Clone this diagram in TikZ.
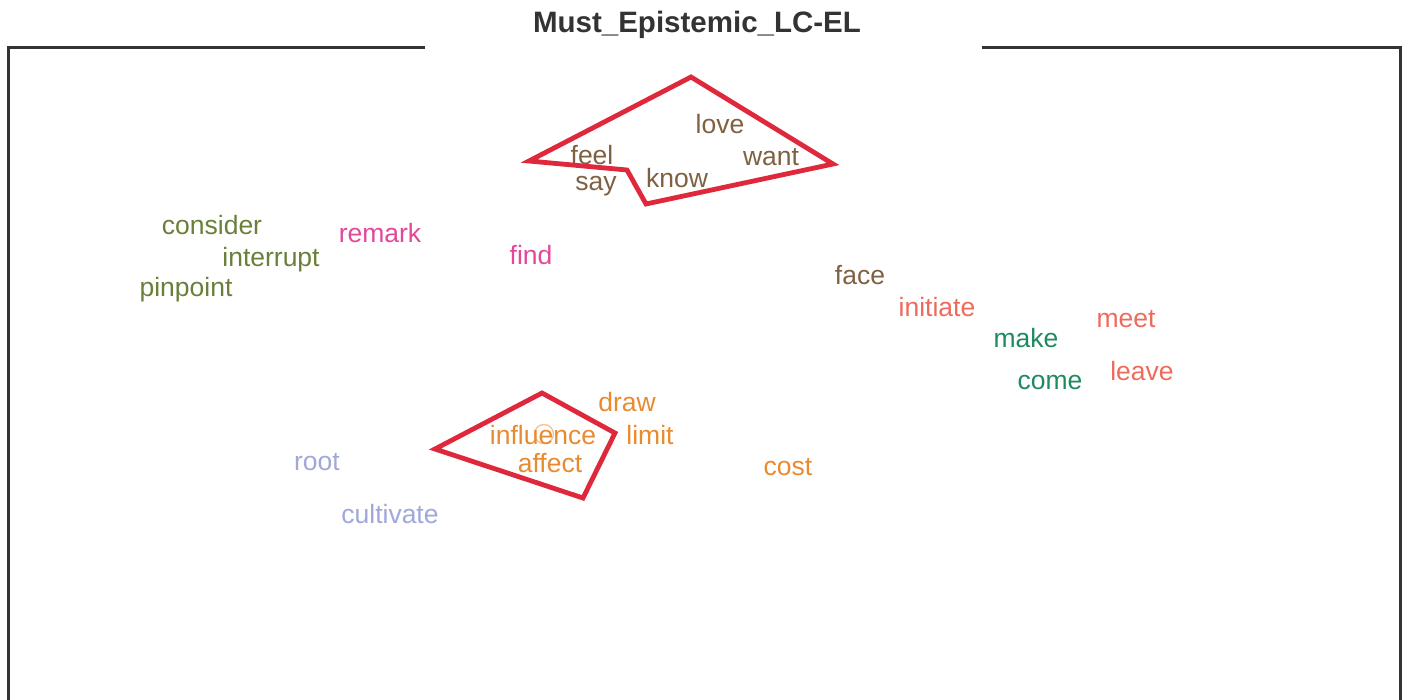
\documentclass[tikz,border=0pt]{standalone}
\usepackage{fontspec}
\setmainfont{Liberation Sans}
\usepackage{xcolor}
\usetikzlibrary{positioning}

\definecolor{clbrown}{HTML}{7F6040}
\definecolor{clolive}{HTML}{6A7F3A}
\definecolor{clpink}{HTML}{E2479A}
\definecolor{clsalmon}{HTML}{EE6B5C}
\definecolor{clgreen}{HTML}{1F8A5F}
\definecolor{clorange}{HTML}{E98A2F}
\definecolor{cllav}{HTML}{A0A7D9}
\definecolor{clhull}{HTML}{E0283C}
\definecolor{clframe}{HTML}{333333}

\tikzset{
  word/.style={inner sep=0pt, font=\fontsize{26.5}{30}\selectfont},
  hull/.style={draw=clhull, line width=4.8pt, line join=miter},
  frame/.style={draw=clframe, line width=3pt}
}

\begin{document}
\begin{tikzpicture}[x=1pt,y=-1pt]
\useasboundingbox (0,0) rectangle (1408,699);

%Frame and title
\node[inner sep=0pt, text=clframe, font=\bfseries\fontsize{29.5}{32}\selectfont] (title) at (697,25) {Must\_Epistemic\_LC-EL};
\draw[frame] (425,47) -- (8,47) -- (8,702);
\draw[frame] (982,47) -- (1400,47) -- (1400,702);

%Top group
\node[word, text=clbrown] (love) at (720,124) {love};
\node[word, text=clbrown] (feel) at (592,155) {feel};
\node[word, text=clbrown] (want) at (771,157) {want};
\node[word, text=clbrown] (say) at (596,186) {say};
\node[word, text=clbrown] (know) at (677,178) {know};
\node[word, text=clbrown] (face) at (860,275) {face};

%Left group
\node[word, text=clolive] (consider) at (212,225) {consider};
\node[word, text=clolive] (interrupt) at (271,260) {interrupt};
\node[word, text=clolive] (pinpoint) at (186,290) {pinpoint};
\node[word, text=clpink] (remark) at (380,233) {remark};
\node[word, text=clpink] (find) at (531,255) {find};

%Right group
\node[word, text=clsalmon] (initiate) at (937,307) {initiate};
\node[word, text=clsalmon] (meet) at (1126,319) {meet};
\node[word, text=clsalmon] (leave) at (1142,371) {leave};
\node[word, text=clgreen] (make) at (1026,338) {make};
\node[word, text=clgreen] (come) at (1050,382) {come};

%Bottom group
\draw[clorange!50, line width=1.4pt] (544,434) circle [radius=9.5];
\node[word, text=clorange] (draw) at (627,402) {draw};
\node[word, text=clorange] (influence) at (543,435) {influence};
\node[word, text=clorange] (limit) at (650,435) {limit};
\node[word, text=clorange] (affect) at (550,463) {affect};
\node[word, text=clorange] (cost) at (788,467) {cost};
\node[word, text=cllav] (root) at (317,462) {root};
\node[word, text=cllav] (cultivate) at (390,514) {cultivate};

%Hulls
\draw[hull] (691,77) -- (833,164) -- (646,204) -- (627,170) -- (529,161) -- cycle;
\draw[hull] (542,393) -- (615,433) -- (583,498) -- (435,449) -- cycle;
\end{tikzpicture}
\end{document}
